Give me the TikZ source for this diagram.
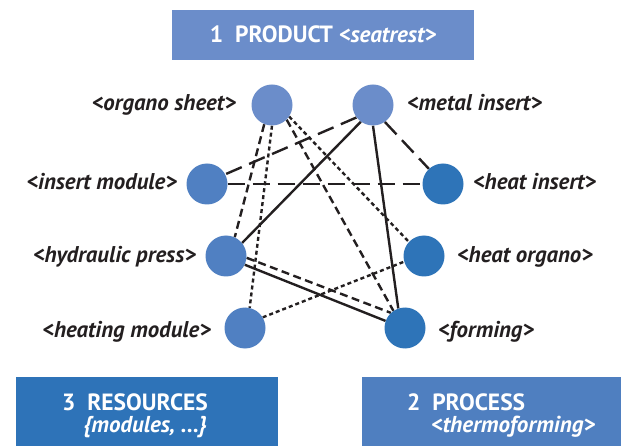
\documentclass[tikz,border=0pt]{standalone}
\usepackage{fontspec}
\setmainfont{PT Sans}
\usetikzlibrary{backgrounds}
\definecolor{prodblue}{HTML}{6B8DCA}
\definecolor{resblue}{HTML}{5080C2}
\definecolor{procblue}{HTML}{2E74B8}
\definecolor{resbox}{HTML}{2E73B8}
\definecolor{procbox}{HTML}{4F7FC0}
\definecolor{inkgray}{HTML}{231F20}

\begin{document}
\begin{tikzpicture}[x=1pt,y=-1pt,
  dot/.style={circle, minimum size=41pt, inner sep=0pt, draw=none},
  prod/.style={dot, fill=prodblue},
  res/.style={dot, fill=resblue},
  proc/.style={dot, fill=procblue},
  lbl/.style={text=inkgray, inner sep=0pt, font=\fontsize{22.8}{24}\selectfont\bfseries\itshape},
  headtxt/.style={text=white, inner sep=0pt, font=\fontsize{23.5}{25}\selectfont\bfseries},
  subtxt/.style={text=white, inner sep=0pt, font=\fontsize{23}{25}\selectfont\bfseries\itshape},
  link/.style={line width=2.4pt, draw=inkgray},
  shortdash/.style={link, dash pattern=on 8pt off 4.5pt},
  finedash/.style={link, dash pattern=on 4pt off 3pt},
  longdash/.style={link, dash pattern=on 17pt off 8pt}
]
\useasboundingbox (0,0) rectangle (621,446);

% category boxes
\fill[prodblue] (172,10) rectangle (474,60);
\fill[resbox] (16,377) rectangle (278,446);
\fill[procbox] (362,377) rectangle (621,446);

\node[headtxt, anchor=base] (t-prod) at (323,43)
  {1\hspace{0.5em}PRODUCT {\fontsize{23}{25}\selectfont\itshape <seatrest>}};
\node[headtxt, anchor=base west] (t-res) at (62,410) {3\hspace{0.5em}RESOURCES};
\node[subtxt, anchor=base west] (s-res) at (83,432) {\{modules, ...\}};
\node[headtxt, anchor=base west] (t-proc) at (407,410) {2\hspace{0.5em}PROCESS};
\node[subtxt, anchor=base west] (s-proc) at (431,432) {<thermoforming>};

% element nodes
\node[prod] (organo) at (272,105) {};
\node[prod] (metal) at (373,105) {};
\node[res] (insmod) at (207,184) {};
\node[proc] (heatins) at (443,184) {};
\node[res] (press) at (226,256) {};
\node[proc] (heatorg) at (424,256) {};
\node[res] (heatmod) at (245,328) {};
\node[proc] (forming) at (405,328) {};

% labels
\node[lbl, anchor=base east] (l-organo) at (236,111) {<organo sheet>};
\node[lbl, anchor=base west] (l-metal) at (407,111) {<metal insert>};
\node[lbl, anchor=base east] (l-insmod) at (177,190) {<insert module>};
\node[lbl, anchor=base west] (l-heatins) at (473,190) {<heat insert>};
\node[lbl, anchor=base east] (l-press) at (196,263) {<hydraulic press>};
\node[lbl, anchor=base west] (l-heatorg) at (457,263) {<heat organo>};
\node[lbl, anchor=base east] (l-heatmod) at (211,337) {<heating module>};
\node[lbl, anchor=base west] (l-forming) at (438,337) {<forming>};

% relations, drawn behind the circles
\begin{pgfonlayer}{background}
  \draw[shortdash] (organo.-112) -- (press.65);
  \draw[finedash]  (organo.-90)  -- (heatmod.77);
  \draw[shortdash] (organo.-45)  -- (forming.124);
  \draw[finedash]  (organo.-34)  -- (heatorg.137);
  \draw[longdash]  (metal.-143)  -- (insmod.28);
  \draw[link]      (metal.-126)  -- (press.39);
  \draw[link]      (metal.-90)   -- (forming.109);
  \draw[longdash]  (metal.-55)   -- (heatins.133);
  \draw[longdash]  (insmod.east) -- (heatins.west);
  \draw[link]      (press.-25)   -- (forming.160);
  \draw[shortdash] (press.-5)    -- (forming.133);
  \draw[finedash]  (heatmod.31)  -- (heatorg.196);
\end{pgfonlayer}
\end{tikzpicture}
\end{document}
